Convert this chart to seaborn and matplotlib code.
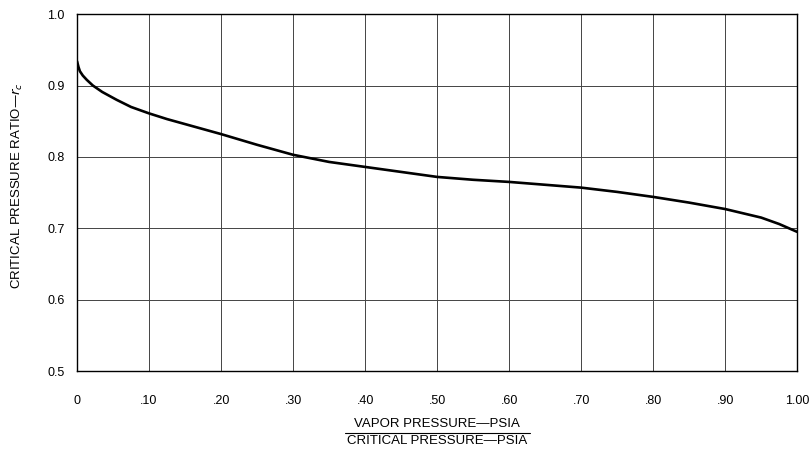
import matplotlib
matplotlib.use("Agg")
import matplotlib.pyplot as plt
import seaborn as sns
import pandas as pd
from matplotlib.lines import Line2D

# values
pressure_ratio = [0.0, 0.002, 0.004, 0.008, 0.0135, 0.022, 0.035, 0.055, 0.075, 0.10,
                  0.125, 0.15, 0.175, 0.20, 0.25, 0.30, 0.35, 0.40, 0.45, 0.50,
                  0.55, 0.60, 0.65, 0.70, 0.75, 0.80, 0.85, 0.90, 0.95, 0.975, 1.00]
critical_ratio = [0.934, 0.926, 0.920, 0.914, 0.908, 0.900, 0.891, 0.880, 0.870, 0.861,
                  0.853, 0.846, 0.839, 0.832, 0.817, 0.803, 0.793, 0.786, 0.779, 0.772,
                  0.768, 0.765, 0.761, 0.757, 0.751, 0.744, 0.736, 0.727, 0.715, 0.706, 0.695]

x_ticks = [0.0, 0.1, 0.2, 0.3, 0.4, 0.5, 0.6, 0.7, 0.8, 0.9, 1.0]
x_tick_labels = ["0", ".10", ".20", ".30", ".40", ".50", ".60", ".70", ".80", ".90", "1.00"]
y_ticks = [0.5, 0.6, 0.7, 0.8, 0.9, 1.0]
y_tick_labels = ["0.5", "0.6", "0.7", "0.8", "0.9", "1.0"]

df = pd.DataFrame({"ratio": pressure_ratio, "rc": critical_ratio})

sns.set_style("white")
plt.rcParams["font.family"] = ["Liberation Sans", "DejaVu Sans"]
plt.rcParams["mathtext.fontset"] = "dejavusans"
plt.rcParams["text.color"] = "black"
plt.rcParams["xtick.color"] = "black"
plt.rcParams["ytick.color"] = "black"
plt.rcParams["axes.labelcolor"] = "black"

fig = plt.figure(figsize=(8.11, 4.57), dpi=100)
ax = fig.add_axes([0.095, 0.188, 0.888, 0.781])

sns.lineplot(data=df, x="ratio", y="rc", ax=ax, color="black", linewidth=1.9)

ax.set_xlim(0, 1.0)
ax.set_ylim(0.5, 1.0)
ax.set_xticks(x_ticks)
ax.set_xticklabels(x_tick_labels, fontsize=9)
ax.set_yticks(y_ticks)
ax.set_yticklabels(y_tick_labels, fontsize=9)
ax.tick_params(axis="x", length=0, pad=17)
ax.tick_params(axis="y", length=0, pad=9)
ax.grid(True, color="#444444", linewidth=0.7)
for s in ax.spines.values():
    s.set_color("black")
    s.set_linewidth(1.0)

ax.set_xlabel("")
ax.set_ylabel("CRITICAL PRESSURE RATIO\u2014$r_c$", fontsize=9.5, labelpad=14)
ax.yaxis.set_label_coords(-0.072, 0.52)

# fraction label under the x axis
fig.text(0.539, 0.073, "VAPOR PRESSURE\u2014PSIA", ha="center", va="center", fontsize=9.5)
fig.text(0.539, 0.035, "CRITICAL PRESSURE\u2014PSIA", ha="center", va="center", fontsize=9.5)
fig.add_artist(Line2D([0.425, 0.653], [0.053, 0.053], color="black", linewidth=0.8,
                      transform=fig.transFigure))

fig.savefig("out.png", dpi=100)
